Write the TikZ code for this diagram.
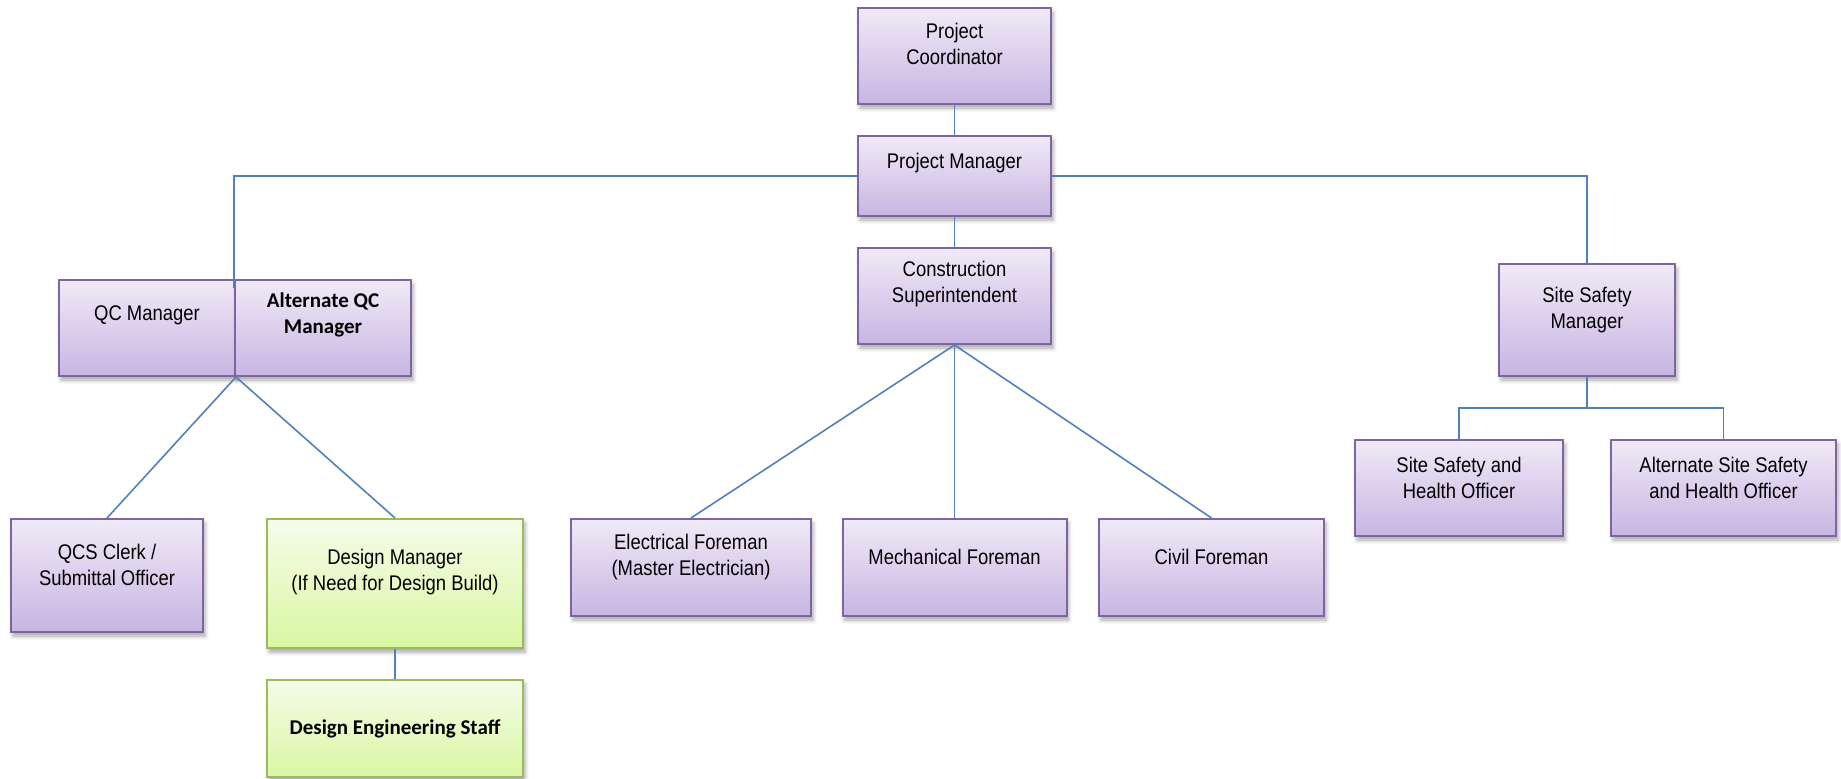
\documentclass[tikz,border=0pt]{standalone}
\usepackage{fontspec}
\setmainfont{Liberation Sans}
\newfontfamily\narrowsans[FakeStretch=0.87]{Liberation Sans}
\newfontfamily\calfont{Carlito}
\usetikzlibrary{shadows.blur}

\definecolor{lavtop}{RGB}{239,234,247}
\definecolor{lavbot}{RGB}{200,181,226}
\definecolor{lavline}{RGB}{128,100,162}
\definecolor{greentop}{RGB}{245,252,234}
\definecolor{greenbot}{RGB}{217,247,162}
\definecolor{greenline}{RGB}{155,187,89}
\definecolor{linkblue}{RGB}{79,129,189}

\tikzset{
  shadowed/.style={blur shadow={shadow xshift=1pt, shadow yshift=-2pt,
      shadow blur radius=2pt, shadow opacity=35}},
  purplebox/.style={draw=lavline, line width=1pt, top color=lavtop,
      bottom color=lavbot, shadowed, inner sep=0pt},
  greenbox/.style={draw=greenline, line width=1pt, top color=greentop,
      bottom color=greenbot, shadowed, inner sep=0pt},
  lbl/.style={align=center, inner sep=0pt,
      font=\narrowsans\fontsize{10.6}{13}\selectfont},
  boldlbl/.style={align=center, inner sep=0pt,
      font=\calfont\bfseries\fontsize{10.5}{13}\selectfont},
  link/.style={draw=linkblue, line width=0.8pt},
}

% #1 box style, #2 name, #3/#4 centre, #5/#6 width/height,
% #7 text raise, #8 text style, #9 text
\newcommand\orgbox[9]{%
  \node[#1, minimum width=#5*0.5pt, minimum height=#6*0.5pt] (#2) at (#3,#4) {};
  \node[#8] (#2-text) at ([yshift=#7*0.5pt]#2.center) {#9};
}

\begin{document}
\begin{tikzpicture}[x=0.5pt, y=-0.5pt]
  \useasboundingbox (0,0) rectangle (1841,778);

  % top of the chart
  \orgbox{purplebox}{pc}{954.5}{56}{193}{96}{12}{lbl}{Project\\Coordinator}
  \orgbox{purplebox}{pm}{954.5}{176}{193}{80}{13}{lbl}{Project Manager}
  \orgbox{purplebox}{cs}{954.5}{296}{193}{96}{12}{lbl}{Construction\\Superintendent}

  % quality control branch
  \orgbox{purplebox}{qc}{147}{328}{176}{96}{13}{lbl}{QC Manager}
  \orgbox{purplebox}{aqc}{323}{328}{176}{96}{13}{boldlbl}{Alternate QC\\Manager}
  \orgbox{purplebox}{qcs}{107}{575.5}{192}{113}{11}{lbl}{QCS Clerk /\\Submittal Officer}
  \orgbox{greenbox}{dm}{395}{583.5}{256}{129}{11}{lbl}{Design Manager\\(If Need for Design Build)}
  \orgbox{greenbox}{des}{395}{728.5}{256}{97}{0}{boldlbl}{Design Engineering Staff}

  % construction branch
  \orgbox{purplebox}{ef}{691}{567.5}{240}{97}{11}{lbl}{Electrical Foreman\\(Master Electrician)}
  \orgbox{purplebox}{mf}{954.5}{567.5}{224}{97}{10.5}{lbl}{Mechanical Foreman}
  \orgbox{purplebox}{cf}{1211.5}{567.5}{225}{97}{10.5}{lbl}{Civil Foreman}

  % safety branch
  \orgbox{purplebox}{ssm}{1587}{320}{176}{112}{10}{lbl}{Site Safety\\Manager}
  \orgbox{purplebox}{ssho}{1459}{488}{208}{96}{10}{lbl}{Site Safety and\\Health Officer}
  \orgbox{purplebox}{assho}{1723.5}{488}{225}{96}{10}{lbl}{Alternate Site Safety\\and Health Officer}

  % connectors
  \coordinate (qcin) at (234,288);
  \coordinate (safetybus) at (1587,408);
  \draw[link] (pc) -- (pm);
  \draw[link] (pm) -- (cs);
  \draw[link] (pm.west) -| (qcin);
  \draw[link] (pm.east) -| (ssm.north);
  \draw[link] (qc.south east) -- (qcs.north);
  \draw[link] (qc.south east) -- (dm.north);
  \draw[link] (dm) -- (des);
  \draw[link] (cs.south) -- (ef.north);
  \draw[link] (cs.south) -- (mf.north);
  \draw[link] (cs.south) -- (cf.north);
  \draw[link] (ssm.south) -- (safetybus);
  \draw[link] (safetybus) -| (ssho.north);
  \draw[link] (safetybus) -| (assho.north);
\end{tikzpicture}
\end{document}
